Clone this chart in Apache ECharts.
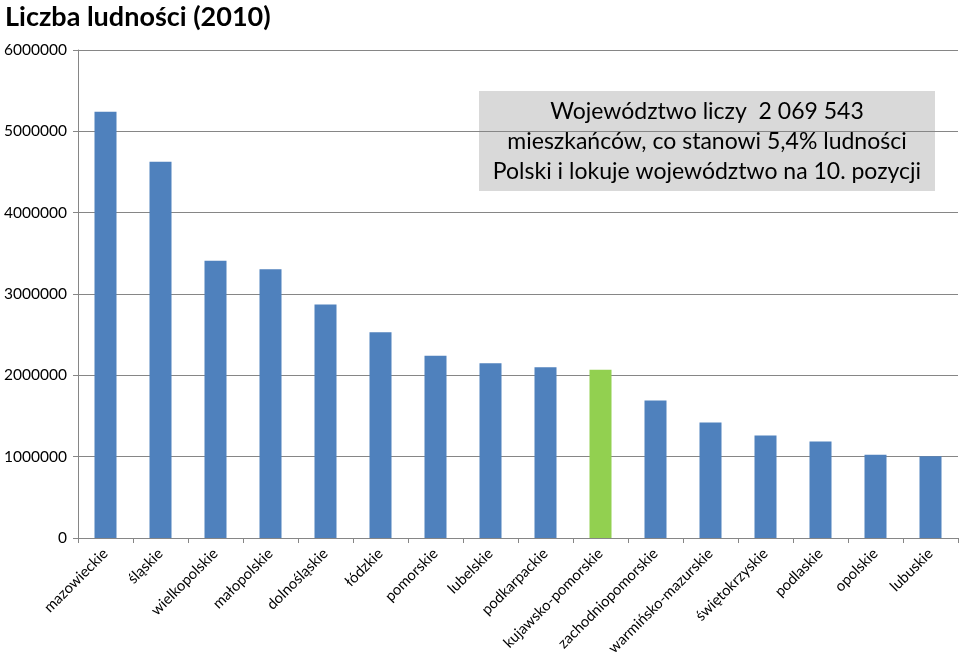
<!DOCTYPE html>
<html><head><meta charset="utf-8">
<script src="https://cdn.jsdelivr.net/npm/echarts@6/dist/echarts.min.js"></script>
<style>html,body{margin:0;padding:0;background:#fff}#c{width:960px;height:654px}</style>
</head><body><div id="c"></div>
<script>
const categories = ['mazowieckie','śląskie','wielkopolskie','małopolskie','dolnośląskie','łódzkie','pomorskie','lubelskie','podkarpackie','kujawsko-pomorskie','zachodniopomorskie','warmińsko-mazurskie','świętokrzyskie','podlaskie','opolskie','lubuskie'];
const values = [5240000, 4625000, 3410000, 3305000, 2870000, 2530000, 2240000, 2150000, 2100000, 2069543, 1690000, 1420000, 1260000, 1185000, 1025000, 1005000];
const highlight = 'kujawsko-pomorskie';
const yTicks = [0, 1000000, 2000000, 3000000, 4000000, 5000000, 6000000];
const titleText = 'Liczba ludności (2010)';
const noteLines = ['Województwo liczy  2 069 543', 'mieszkańców, co stanowi 5,4% ludności', 'Polski i lokuje województwo na 10. pozycji'];

const font = 'Lato, "Open Sans", sans-serif';
const chart = echarts.init(document.getElementById('c'), null, {renderer: 'canvas'});
chart.setOption({
  animation: false,
  backgroundColor: '#fff',
  title: {text: titleText, left: 0, top: -1, textStyle: {fontFamily: font, fontWeight: 'bold', fontSize: 27, color: '#000'}},
  grid: {left: 78, right: 2, top: 50, bottom: 116, containLabel: false, outerBoundsMode: 'none'},
  xAxis: {
    type: 'category', data: categories,
    axisLine: {lineStyle: {color: '#868686', width: 1}},
    axisTick: {show: true, alignWithLabel: false, length: 5, lineStyle: {color: '#868686'}},
    axisLabel: {rotate: 45, interval: 0, margin: 13, fontFamily: font, fontSize: 14.8, color: '#000'}
  },
  yAxis: {
    type: 'value', min: yTicks[0], max: yTicks[yTicks.length - 1], interval: yTicks[1] - yTicks[0],
    axisLine: {show: true, lineStyle: {color: '#868686', width: 1}},
    axisTick: {show: true, length: 5, lineStyle: {color: '#868686'}},
    axisLabel: {margin: 11, fontFamily: font, fontSize: 15.5, color: '#000', formatter: v => String(v)},
    splitLine: {show: true, lineStyle: {color: '#868686', width: 1}}
  },
  series: [{
    type: 'bar', barWidth: 22,
    data: values.map((v, i) => ({value: v, itemStyle: {color: categories[i] === highlight ? '#92D050' : '#4F81BD'}}))
  }],
  graphic: [{
    type: 'group', left: 479, top: 91,
    children: [
      {type: 'rect', shape: {x: 0, y: 0, width: 456, height: 100}, style: {fill: '#D9D9D9'}},
      {type: 'text', x: 228, y: 51, style: {text: noteLines.join('\n'), fontFamily: font, fontSize: 23, lineHeight: 30, fill: '#000', align: 'center', verticalAlign: 'middle'}}
    ]
  }]
});
</script></body></html>
